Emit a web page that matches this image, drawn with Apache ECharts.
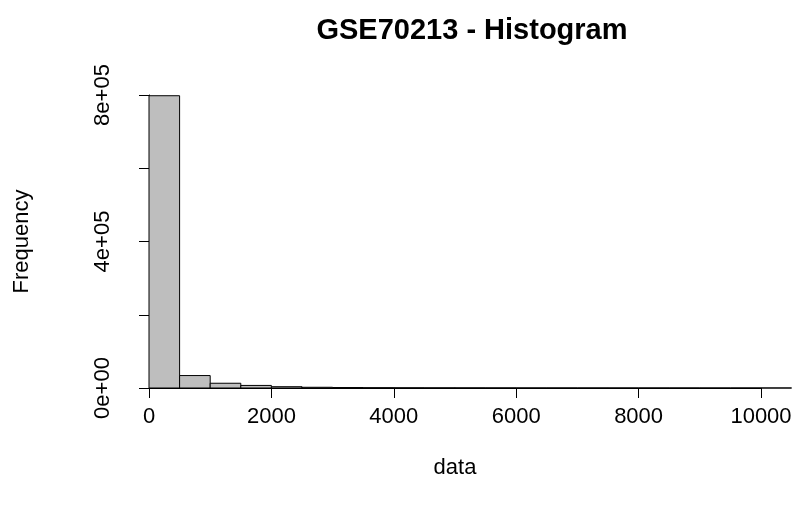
<!DOCTYPE html>
<html>
<head>
<meta charset="utf-8">
<script src="https://cdn.jsdelivr.net/npm/echarts@6/dist/echarts.min.js"></script>
<style>html,body{margin:0;padding:0;background:#fff}#c{width:799px;height:512px}</style>
</head>
<body>
<div id="c"></div>
<script>
var binStarts = [0,500,1000,1500,2000,2500,3000,3500,4000,4500,5000,5500,6000,6500,7000,7500,8000,8500,9000,9500,10000];
var binWidth = 500;
var counts = [798000,34000,13000,7000,3500,2000,1200,800,550,400,300,220,170,130,100,80,60,50,40,30,25];
var xTicks = [0,2000,4000,6000,8000,10000];
var yTicks = [0,200000,400000,600000,800000];
var yLabelMap = {0:'0e+00',400000:'4e+05',800000:'8e+05'};

var font = 'Liberation Sans, Arial, Helvetica, sans-serif';
var chart = echarts.init(document.getElementById('c'), null, {renderer:'canvas'});
var barData = binStarts.map(function(s,i){return [s, s+binWidth, counts[i]];});
chart.setOption({
  animation:false,
  backgroundColor:'#fff',
  title:{text:'GSE70213 - Histogram', left:467, top:11, textAlign:'center',
    textStyle:{fontFamily:font, fontSize:29, fontWeight:'bold', color:'#000'}},
  grid:{left:149, width:612, top:95, height:293, containLabel:false},
  xAxis:{type:'value', min:0, max:10000, interval:2000, offset:12,
    name:'data', nameLocation:'middle', nameGap:57,
    nameTextStyle:{fontFamily:font, fontSize:22, color:'#000'},
    axisLine:{show:true, lineStyle:{color:'#000', width:1}},
    axisTick:{show:true, length:10, lineStyle:{color:'#000', width:1}},
    axisLabel:{fontFamily:font, fontSize:22, color:'#000', margin:6,
      formatter:function(v){return String(v);}},
    splitLine:{show:false}},
  yAxis:{type:'value', min:0, max:800000, interval:200000, offset:26,
    name:'Frequency', nameLocation:'middle', nameGap:90,
    nameTextStyle:{fontFamily:font, fontSize:22, color:'#000'},
    axisLine:{show:true, lineStyle:{color:'#000', width:1}},
    axisTick:{show:true, length:10, lineStyle:{color:'#000', width:1}},
    axisLabel:{fontFamily:font, fontSize:22, color:'#000', rotate:90, margin:9,
      formatter:function(v){return yLabelMap[v]!==undefined?yLabelMap[v]:'';}},
    splitLine:{show:false}},
  series:[{
    type:'custom', clip:false,
    data:barData,
    encode:{x:[0,1], y:2},
    renderItem:function(params, api){
      var p0 = api.coord([api.value(0), 0]);
      var p1 = api.coord([api.value(1), api.value(2)]);
      return {type:'rect',
        shape:{x:p0[0], y:p1[1], width:p1[0]-p0[0], height:p0[1]-p1[1]},
        style:{fill:'#bebebe', stroke:'#000', lineWidth:1}};
    }
  }]
});
</script>
</body>
</html>
